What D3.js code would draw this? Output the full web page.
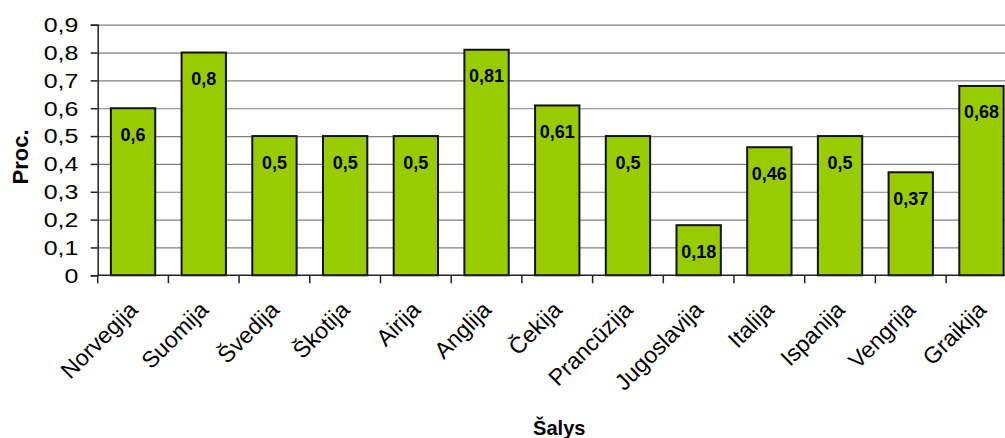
<!DOCTYPE html>
<html>
<head>
<meta charset="utf-8">
<script src="https://cdn.jsdelivr.net/npm/d3@7"></script>
<style>
  html, body { margin: 0; padding: 0; background: #fff; overflow: hidden; }
  svg { display: block; font-family: "Liberation Sans", Arial, sans-serif; }
</style>
</head>
<body>
<svg id="chart" width="1005" height="438"></svg>
<script>
// Countries shown on the category axis
const countries = ["Norvegija", "Suomija", "Švedija", "Škotija", "Airija", "Anglija", "Čekija",
  "Prancūzija", "Jugoslavija", "Italija", "Ispanija", "Vengrija", "Graikija"];
// Share per country (Proc.)
const values = [0.6, 0.8, 0.5, 0.5, 0.5, 0.81, 0.61, 0.5, 0.18, 0.46, 0.5, 0.37, 0.68];
// Value-axis ticks
const yTicks = [0, 0.1, 0.2, 0.3, 0.4, 0.5, 0.6, 0.7, 0.8, 0.9];

const yTitle = "Proc.";
const xTitle = "Šalys";

const svg = d3.select("#chart");
const W = 1005;

const plot = { left: 97.7, top: 24.7, bottom: 275.3, step: 70.7 };
const plotRight = plot.left + countries.length * plot.step;

// Decimal comma formatting
const lt = d3.formatLocale({ decimal: ",", thousands: " ", grouping: [3], currency: ["", " €"] });
const fmt = v => lt.format("~g")(v);

const x = d3.scaleBand()
  .domain(countries)
  .range([plot.left, plotRight])
  .paddingInner(0.373)
  .paddingOuter(0.1865);

const y = d3.scaleLinear().domain([0, 0.9]).range([plot.bottom, plot.top]);

// Horizontal gridlines
const grid = svg.append("g")
  .attr("transform", `translate(${plot.left},0)`)
  .call(d3.axisLeft(y).tickValues(yTicks.slice(1)).tickSize(-(W - plot.left)).tickFormat(""));
grid.select(".domain").remove();
grid.selectAll("line").attr("stroke", "#7f7f7f").attr("stroke-width", 1.2);

// Bars
svg.append("g").selectAll("rect")
  .data(values)
  .join("rect")
  .attr("x", (d, i) => x(countries[i]))
  .attr("y", d => y(d))
  .attr("width", x.bandwidth())
  .attr("height", d => y(0) - y(d))
  .attr("fill", "#99cc00")
  .attr("stroke", "#111")
  .attr("stroke-width", 2);

// Value labels inside the bars
svg.append("g").selectAll("text")
  .data(values)
  .join("text")
  .attr("x", (d, i) => x(countries[i]) + x.bandwidth() / 2)
  .attr("y", d => y(d) + 32.5)
  .attr("text-anchor", "middle")
  .attr("font-weight", "bold")
  .attr("font-size", 18)
  .attr("fill", "#000")
  .text(d => fmt(d));

// Value axis
const yAxis = svg.append("g")
  .attr("transform", `translate(${plot.left},0)`)
  .call(d3.axisLeft(y).tickValues(yTicks).tickSize(7).tickPadding(12).tickFormat(fmt));
yAxis.select(".domain").attr("stroke", "#222").attr("stroke-width", 1.5);
yAxis.selectAll(".tick line").attr("stroke", "#222").attr("stroke-width", 1.5);
yAxis.selectAll(".tick text")
  .attr("font-size", 19.5)
  .attr("font-family", "Liberation Sans, Arial, sans-serif")
  .attr("fill", "#000")
  .attr("x", 0)
  .attr("dy", "0.35em")
  .attr("transform", "translate(-19.4,0) scale(1.28,1)");

// Category axis: baseline, separator ticks between bands, rotated labels
const xAxis = svg.append("g")
  .attr("transform", `translate(0,${plot.bottom})`)
  .call(d3.axisBottom(x).tickSize(0).tickPadding(0));
xAxis.select(".domain").attr("d", `M${plot.left},0H${W}`).attr("stroke", "#222").attr("stroke-width", 1.5);
xAxis.selectAll(".tick text")
  .attr("font-size", 23)
  .attr("font-family", "Liberation Sans, Arial, sans-serif")
  .attr("fill", "#000")
  .attr("text-anchor", "end")
  .attr("dy", 0)
  .attr("y", 0)
  .attr("transform", "translate(6,36) rotate(-45)");

const offset = (x.step() - x.bandwidth()) / 2;
svg.append("g").selectAll("line")
  .data(countries)
  .join("line")
  .attr("x1", d => x(d) - offset)
  .attr("x2", d => x(d) - offset)
  .attr("y1", plot.bottom)
  .attr("y2", plot.bottom + 8)
  .attr("stroke", "#222")
  .attr("stroke-width", 1.5);

// Axis titles
svg.append("text")
  .attr("transform", `translate(28,157) rotate(-90)`)
  .attr("text-anchor", "middle")
  .attr("font-weight", "bold")
  .attr("font-size", 22)
  .text(yTitle);

svg.append("text")
  .attr("x", (plot.left + plotRight) / 2 + 2)
  .attr("y", 435)
  .attr("text-anchor", "middle")
  .attr("font-weight", "bold")
  .attr("font-size", 20)
  .text(xTitle);
</script>
</body>
</html>
